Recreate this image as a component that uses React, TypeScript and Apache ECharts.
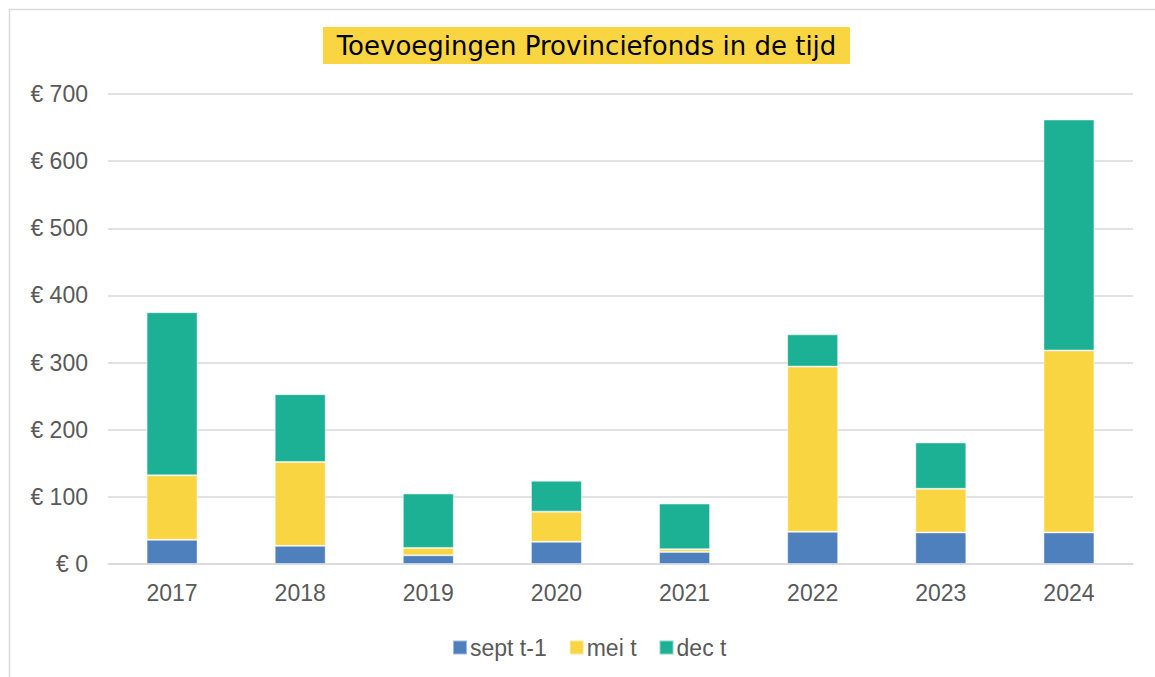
import React, { useEffect, useRef } from "react";
import * as echarts from "echarts";

const categories = ["2017", "2018", "2019", "2020", "2021", "2022", "2023", "2024"];
const septValues = [36, 27, 13, 33, 18, 48, 47, 47];
const meiValues = [96, 125, 11, 45, 4, 246, 65, 271];
const decValues = [243, 101, 81, 46, 68, 48, 69, 344];
const seriesNames = ["sept t-1", "mei t", "dec t"];
const titleText = "Toevoegingen Provinciefonds in de tijd";

export default function App() {
  const ref = useRef<HTMLDivElement>(null);
  useEffect(() => {
    document.body.style.margin = "0";
    document.body.style.overflow = "hidden";
    const chart = echarts.init(ref.current!, undefined, { renderer: "svg" });
    const labelStyle = { color: "#595959", fontFamily: "Liberation Sans", fontSize: 23 };
    const barCommon = {
      type: "bar" as const,
      stack: "total",
      barWidth: 51,
      itemStyle: { borderColor: "rgba(255,255,255,0.45)", borderWidth: 1 },
    };
    chart.setOption({
      animation: false,
      backgroundColor: "#ffffff",
      graphic: [
        {
          type: "rect",
          shape: { x: 9.5, y: 9.5, width: 1160, height: 680 },
          style: { fill: "none", stroke: "#d9d9d9", lineWidth: 1.5 },
          silent: true,
        },
        {
          type: "rect",
          shape: { x: 323, y: 27, width: 527, height: 37 },
          style: { fill: "#fad542" },
          silent: true,
        },
        {
          type: "text",
          x: 586.5,
          y: 46,
          style: {
            text: titleText,
            fill: "#000000",
            fontFamily: "DejaVu Sans",
            fontSize: 26,
            align: "center",
            verticalAlign: "middle",
          },
          silent: true,
        },
      ],
      legend: {
        data: seriesNames,
        top: 631,
        left: 447,
        itemWidth: 14,
        itemHeight: 14,
        itemGap: 22,
        icon: "rect",
        textStyle: { ...labelStyle, padding: [0, 0, 0, -2] },
      },
      grid: { left: 108, right: 22, top: 94, bottom: 113 },
      xAxis: {
        type: "category",
        data: categories,
        axisLine: { lineStyle: { color: "#d9d9d9", width: 1.5 } },
        axisTick: { show: false },
        axisLabel: { ...labelStyle, margin: 17 },
      },
      yAxis: {
        type: "value",
        min: 0,
        max: 700,
        interval: 100,
        axisLine: { show: false },
        axisTick: { show: false },
        splitLine: { lineStyle: { color: "#d9d9d9", width: 1.5 } },
        axisLabel: { ...labelStyle, margin: 20, formatter: (v: number) => "€ " + v },
      },
      series: [
        { ...barCommon, name: seriesNames[0], data: septValues, itemStyle: { ...barCommon.itemStyle, color: "#4e80bd" } },
        { ...barCommon, name: seriesNames[1], data: meiValues, itemStyle: { ...barCommon.itemStyle, color: "#fad542" } },
        { ...barCommon, name: seriesNames[2], data: decValues, itemStyle: { ...barCommon.itemStyle, color: "#1cb194" } },
      ],
    });
    return () => chart.dispose();
  }, []);
  return <div ref={ref} style={{ width: 1155, height: 677 }} />;
}
